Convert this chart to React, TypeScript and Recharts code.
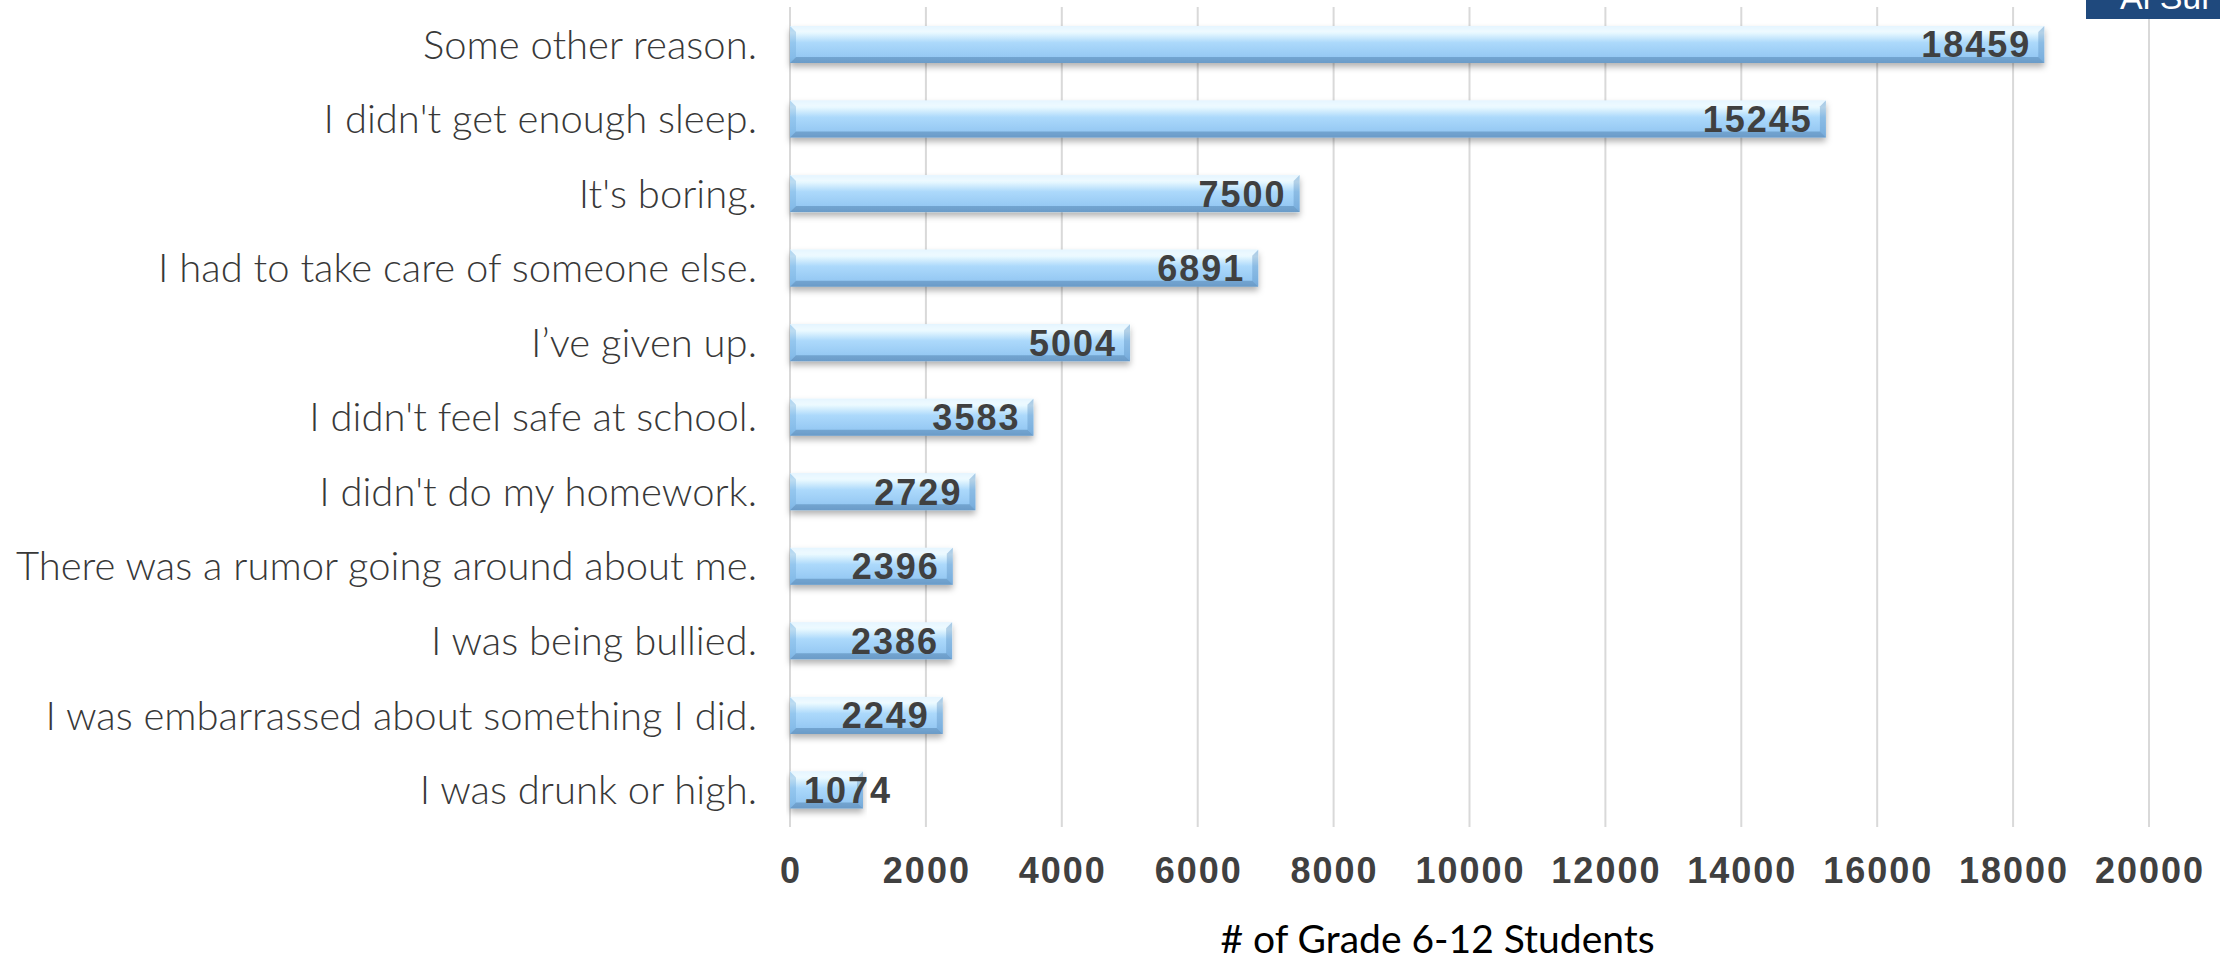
import React from "react";
import { BarChart, Bar, XAxis, YAxis, CartesianGrid, LabelList } from "recharts";

const categories = [
  "Some other reason.",
  "I didn't get enough sleep.",
  "It's boring.",
  "I had to take care of someone else.",
  "I\u2019ve given up.",
  "I didn't feel safe at school.",
  "I didn't do my homework.",
  "There was a rumor going around about me.",
  "I was being bullied.",
  "I was embarrassed about something I did.",
  "I was drunk or high.",
];
const students = [18459, 15245, 7500, 6891, 5004, 3583, 2729, 2396, 2386, 2249, 1074];
const xTicks = [0, 2000, 4000, 6000, 8000, 10000, 12000, 14000, 16000, 18000, 20000];
const xAxisTitle = "# of Grade 6-12 Students";
const cornerText = "Al Sur";

const data = categories.map((name, i) => ({ name, value: students[i] }));

const LABEL_FONT = "'Liberation Sans', Arial, sans-serif";
const CAT_FONT = "Lato, 'Open Sans', sans-serif";

const BevelBar = (props: any) => {
  const { x, y, width, height } = props;
  if (!width || width <= 0) return null;
  const b = Math.min(6, width / 2, height / 2);
  return (
    <g filter="url(#barShadow)">
      <rect x={x} y={y} width={width} height={height} fill="url(#barGrad)" />
      <polygon
        points={`${x},${y} ${x + width},${y} ${x + width - b},${y + b} ${x + b},${y + b}`}
        fill="#f4fbff"
        opacity={0.55}
      />
      <polygon
        points={`${x},${y + height} ${x + width},${y + height} ${x + width - b},${y + height - b} ${x + b},${y + height - b}`}
        fill="#3f6f9c"
        opacity={0.4}
      />
      <polygon
        points={`${x},${y} ${x + b},${y + b} ${x + b},${y + height - b} ${x},${y + height}`}
        fill="#6aa5d8"
        opacity={0.35}
      />
      <polygon
        points={`${x + width},${y} ${x + width - b},${y + b} ${x + width - b},${y + height - b} ${x + width},${y + height}`}
        fill="#4f86bb"
        opacity={0.35}
      />
    </g>
  );
};

const ValueLabel = (props: any) => {
  const { x, y, width, height, value } = props;
  const fs = 36;
  const ls = 2;
  const txt = String(value);
  const tw = txt.length * (fs * 0.556 + ls);
  const pad = 15;
  let tx = x + width - pad + ls;
  let anchor: "end" | "start" = "end";
  if (width < tw + 2 * pad) {
    tx = x + 14;
    anchor = "start";
  }
  return (
    <text
      x={tx}
      y={y + height / 2}
      dy="0.36em"
      textAnchor={anchor}
      fontFamily={LABEL_FONT}
      fontWeight={700}
      fontSize={fs}
      letterSpacing={ls}
      fill="#404040"
    >
      {txt}
    </text>
  );
};

const CatTick = (props: any) => {
  const { x, y, payload } = props;
  return (
    <text
      x={x}
      y={y}
      dy="0.36em"
      textAnchor="end"
      fontFamily={CAT_FONT}
      fontWeight={300}
      fontSize={40}
      fill="#383838"
    >
      {payload.value}
    </text>
  );
};

const NumTick = (props: any) => {
  const { x, y, payload } = props;
  return (
    <text
      x={x + 1}
      y={y}
      dy="0.36em"
      textAnchor="middle"
      fontFamily={LABEL_FONT}
      fontWeight={700}
      fontSize={36}
      letterSpacing={2}
      fill="#404040"
    >
      {payload.value}
    </text>
  );
};

const AxisTitle = (props: any) => {
  const vb = props.viewBox || {};
  return (
    <text
      x={vb.x + vb.width / 2 - 32}
      y={vb.y + 112}
      dy="0.36em"
      textAnchor="middle"
      fontFamily={CAT_FONT}
      fontWeight={400}
      fontSize={39}
      fill="#000000"
    >
      {xAxisTitle}
    </text>
  );
};

export default function App() {
  return (
    <div style={{ position: "absolute", left: 0, top: 0, width: 2220, height: 960, background: "#ffffff", overflow: "hidden" }}>
      <BarChart
        width={2220}
        height={960}
        data={data}
        layout="vertical"
        margin={{ top: 7, right: 71, bottom: 0, left: 0 }}
        barSize={37}
      >
        <defs>
          <linearGradient id="barGrad" x1="0" y1="0" x2="0" y2="1">
            <stop offset="0%" stopColor="#d4eeff" />
            <stop offset="18%" stopColor="#e9f9ff" />
            <stop offset="45%" stopColor="#acd9fb" />
            <stop offset="85%" stopColor="#95c8f3" />
            <stop offset="100%" stopColor="#88bae7" />
          </linearGradient>
          <filter id="barShadow" x="-5%" y="-30%" width="110%" height="170%">
            <feDropShadow dx="0" dy="4" stdDeviation="3" floodColor="#000000" floodOpacity="0.3" />
          </filter>
        </defs>
        <CartesianGrid horizontal={false} vertical={true} stroke="#d9d9d9" strokeWidth={2} />
        <XAxis
          type="number"
          domain={[0, 20000]}
          ticks={xTicks}
          interval={0}
          axisLine={false}
          tickLine={false}
          tickSize={0}
          tickMargin={43}
          height={133}
          tick={<NumTick />}
          label={<AxisTitle />}
        />
        <YAxis
          type="category"
          dataKey="name"
          width={790}
          axisLine={false}
          tickLine={false}
          tickSize={0}
          tickMargin={33}
          interval={0}
          tick={<CatTick />}
        />
        <Bar dataKey="value" isAnimationActive={false} shape={<BevelBar />}>
          <LabelList dataKey="value" content={<ValueLabel />} />
        </Bar>
      </BarChart>
      <div
        style={{
          position: "absolute",
          left: 2086,
          top: 0,
          width: 134,
          height: 19,
          background: "#1f497d",
          overflow: "hidden",
        }}
      >
        <div
          style={{
            position: "absolute",
            left: 34,
            top: -22,
            color: "#ffffff",
            fontFamily: LABEL_FONT,
            fontSize: 34,
            whiteSpace: "nowrap",
          }}
        >
          {cornerText}
        </div>
      </div>
    </div>
  );
}
